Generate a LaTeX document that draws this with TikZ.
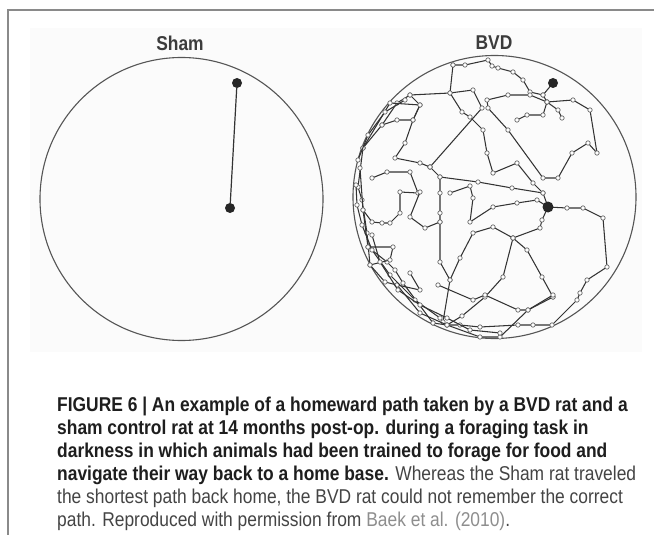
\documentclass[tikz,border=0pt]{standalone}
\usepackage{fontspec}
\setmainfont{Liberation Sans}
\newfontfamily\capfont[FakeStretch=0.87]{Liberation Sans}
\usepackage{tikz}
\definecolor{rim}{HTML}{555555}
\definecolor{trail}{HTML}{333333}
\definecolor{lbl}{HTML}{3c3c3c}
\definecolor{capbold}{HTML}{1e1e1e}
\definecolor{capbody}{HTML}{444444}
\definecolor{capref}{HTML}{8e8e8e}
\definecolor{frame}{HTML}{8a8a8a}
\tikzset{
    arena/.style={draw=rim, line width=1.1pt, circle, minimum size=283pt, inner sep=0pt},
    home/.style={fill=black!85, circle, minimum size=10pt, inner sep=0pt},
    trk/.style={draw=trail, line width=1.05pt, line join=round, mark=*, mark size=2.2pt,
        mark options={fill=white, draw=trail!75, line width=0.7pt}},
    panel/.style={font=\capfont\bfseries\fontsize{20}{22}\selectfont, text=lbl}
}

\begin{document}
\begin{tikzpicture}[x=1pt, y=-1pt]
    \useasboundingbox (0,0) rectangle (654,535);
    \fill[white] (0,0) rectangle (654,535);
    \fill[black!1.5] (30,28) rectangle (642,352);
    \draw[frame, line width=1.2pt] (8,535) -- (8,10) -- (654,10);

    \node[panel] (shamlbl) at (180,43) {Sham};
    \node[panel] (bvdlbl) at (494,43) {BVD};
    \node[arena] (shamarena) at (181.5,199) {};
    \node[arena] (bvdarena) at (494.5,197) {};

    \node[home] (shamstart) at (237,83) {};
    \node[home] (shamend) at (230,208) {};
    \draw[trail, line width=1.2pt] (shamstart) -- (shamend);

    \draw[trk] plot coordinates {(453,65) (465,65) (488,60) (492,66) (498,68) (513,72) (523,80) (530,92) (543,95) (553,83)};
    \draw[trk] plot coordinates {(543,95) (547,102) (573,100) (590,110) (597,153) (588,143) (572,153) (558,178) (543,178) (508,130) (488,108) (487,100) (508,95) (530,95) (547,102) (558,110) (562,118)};
    \draw[trk] plot coordinates {(547,102) (543,115) (527,115) (517,120)};
    \draw[trk] plot coordinates {(410,95) (450,93) (473,90) (482,108) (430,167)};
    \draw[trk] plot coordinates {(453,65) (450,93) (462,112) (470,117) (483,130) (487,153) (493,173) (517,163) (533,183) (543,193) (548,207)};
    \draw[trk] plot coordinates {(430,167) (440,177) (440,193) (440,213) (440,222) (440,262) (450,280)};
    \draw[trk] plot coordinates {(430,167) (420,163) (395,158) (405,143) (413,120) (420,105) (410,95) (397,103) (382,125) (363,148)};
    \draw[trk] plot coordinates {(440,177) (478,182) (512,188) (543,193)};
    \draw[trk] plot coordinates {(450,193) (470,186) (473,198) (470,222) (493,207) (517,203) (537,200) (548,207)};
    \draw[trk] plot coordinates {(548,207) (542,220) (540,228) (513,238) (493,227) (473,233) (460,258) (450,280) (443,322)};
    \draw[trk] plot coordinates {(513,238) (527,250) (542,277) (553,297)};
    \draw[trk] plot coordinates {(513,238) (503,277) (485,297) (462,316) (447,325)};
    \draw[trk] plot coordinates {(438,285) (473,300) (485,295) (518,310) (528,310) (553,297)};
    \draw[trk] plot coordinates {(548,207) (567,208) (583,208) (603,218) (607,267) (587,280) (580,293) (577,300) (552,325) (533,325) (518,325) (480,327) (460,325) (447,325) (433,323)};
    \draw[trk] plot coordinates {(363,148) (358,187) (362,200) (367,233) (370,265) (385,282) (397,285) (420,313) (447,325) (480,337) (500,337) (528,310) (553,295)};
    \draw[trk] plot coordinates {(360,168) (363,210) (368,247) (387,262) (395,270) (403,283) (433,323)};
    \draw[trk] plot coordinates {(372,178) (387,172) (410,172) (418,193) (400,192) (400,213) (390,223) (382,223) (372,222) (363,210)};
    \draw[trk] plot coordinates {(368,247) (393,247) (390,260) (370,265)};
    \draw[trk] plot coordinates {(410,273) (420,290) (397,285)};
    \draw[trk] plot coordinates {(363,148) (390,103) (420,105) (413,120) (397,120) (382,125)};
    \draw[trk] plot coordinates {(420,192) (410,217) (425,228) (440,222)};
    \draw[trk] plot coordinates {(358,160) (368,135) (385,112) (405,100)};
    \draw[trk] plot coordinates {(356,185) (357,205) (362,225) (372,250) (390,275) (415,300) (440,318)};
    \draw[trk] plot coordinates {(372,235) (380,262) (398,290) (420,305) (447,318) (470,330) (500,333)};

    \node[home] (bvdhome) at (553,83) {};
    \node[home, minimum size=11pt] (bvdcentre) at (548,207) {};

    \node[anchor=north west, align=left, inner sep=0pt, text=capbody,
        font=\capfont\fontsize{20}{23}\selectfont] (cap) at (57,397)
        {\textbf{\color{capbold}FIGURE 6 | An example of a homeward path taken by a BVD rat and a}\\
         \textbf{\color{capbold}sham control rat at 14 months post-op. during a foraging task in}\\
         \textbf{\color{capbold}darkness in which animals had been trained to forage for food and}\\
         \textbf{\color{capbold}navigate their way back to a home base.} Whereas the Sham rat traveled\\
         the shortest path back home, the BVD rat could not remember the correct\\
         path. Reproduced with permission from {\color{capref}Baek et al. (2010)}.};
\end{tikzpicture}
\end{document}
